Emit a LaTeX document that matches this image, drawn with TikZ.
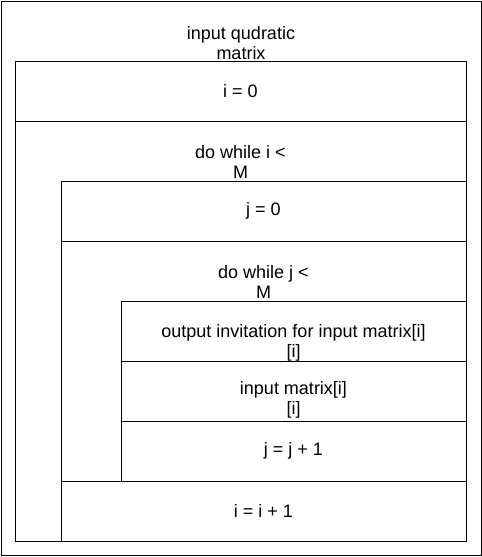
\documentclass[tikz,border=0pt]{standalone}
\usepackage{fontspec}
\setmainfont{Liberation Sans}
\usetikzlibrary{positioning}

\begin{document}
\begin{tikzpicture}[x=1pt,y=1pt]
      \tikzstyle{every node}+=[inner sep=0pt, outer sep=0pt, font=\fontsize{18}{20}\selectfont]
      \tikzstyle{box}=[draw=black, line width=0.9pt, rectangle, anchor=north west]
      \tikzstyle{txt}=[align=center]
      \useasboundingbox (0,0) rectangle (482,-557);
      \node [box, minimum width=480pt, minimum height=554pt] (frame) at (1,-1) {};
      \node [txt] (title) at (241,-43) {input qudratic\\matrix};
      \node [box, minimum width=451pt, minimum height=60pt] (initi) at (15,-61) {i = 0};
      \node [box, minimum width=451pt, minimum height=420pt] (loopi) at (15,-121) {};
      \node [txt] (loopilbl) at (240.5,-162) {do while i <\\M};
      \node [box, minimum width=405pt, minimum height=60pt] (initj) at (61,-181) {j = 0};
      \node [box, minimum width=405pt, minimum height=240pt] (loopj) at (61,-241) {};
      \node [txt] (loopjlbl) at (263.5,-282) {do while j <\\M};
      \node [box, minimum width=345pt, minimum height=60pt] (prompt) at (121,-301) {};
      \node [txt] (promptlbl) at ([yshift=-12pt]prompt.center) {output invitation for input matrix[i]\\{[i]}};
      \node [box, minimum width=345pt, minimum height=60pt] (readin) at (121,-361) {};
      \node [txt] (readinlbl) at ([yshift=-9pt]readin.center) {input matrix[i]\\{[i]}};
      \node [box, minimum width=345pt, minimum height=60pt] (incj) at (121,-421) {j = j + 1};
      \node [box, minimum width=405pt, minimum height=60pt] (inci) at (61,-481) {i = i + 1};
\end{tikzpicture}
\end{document}
